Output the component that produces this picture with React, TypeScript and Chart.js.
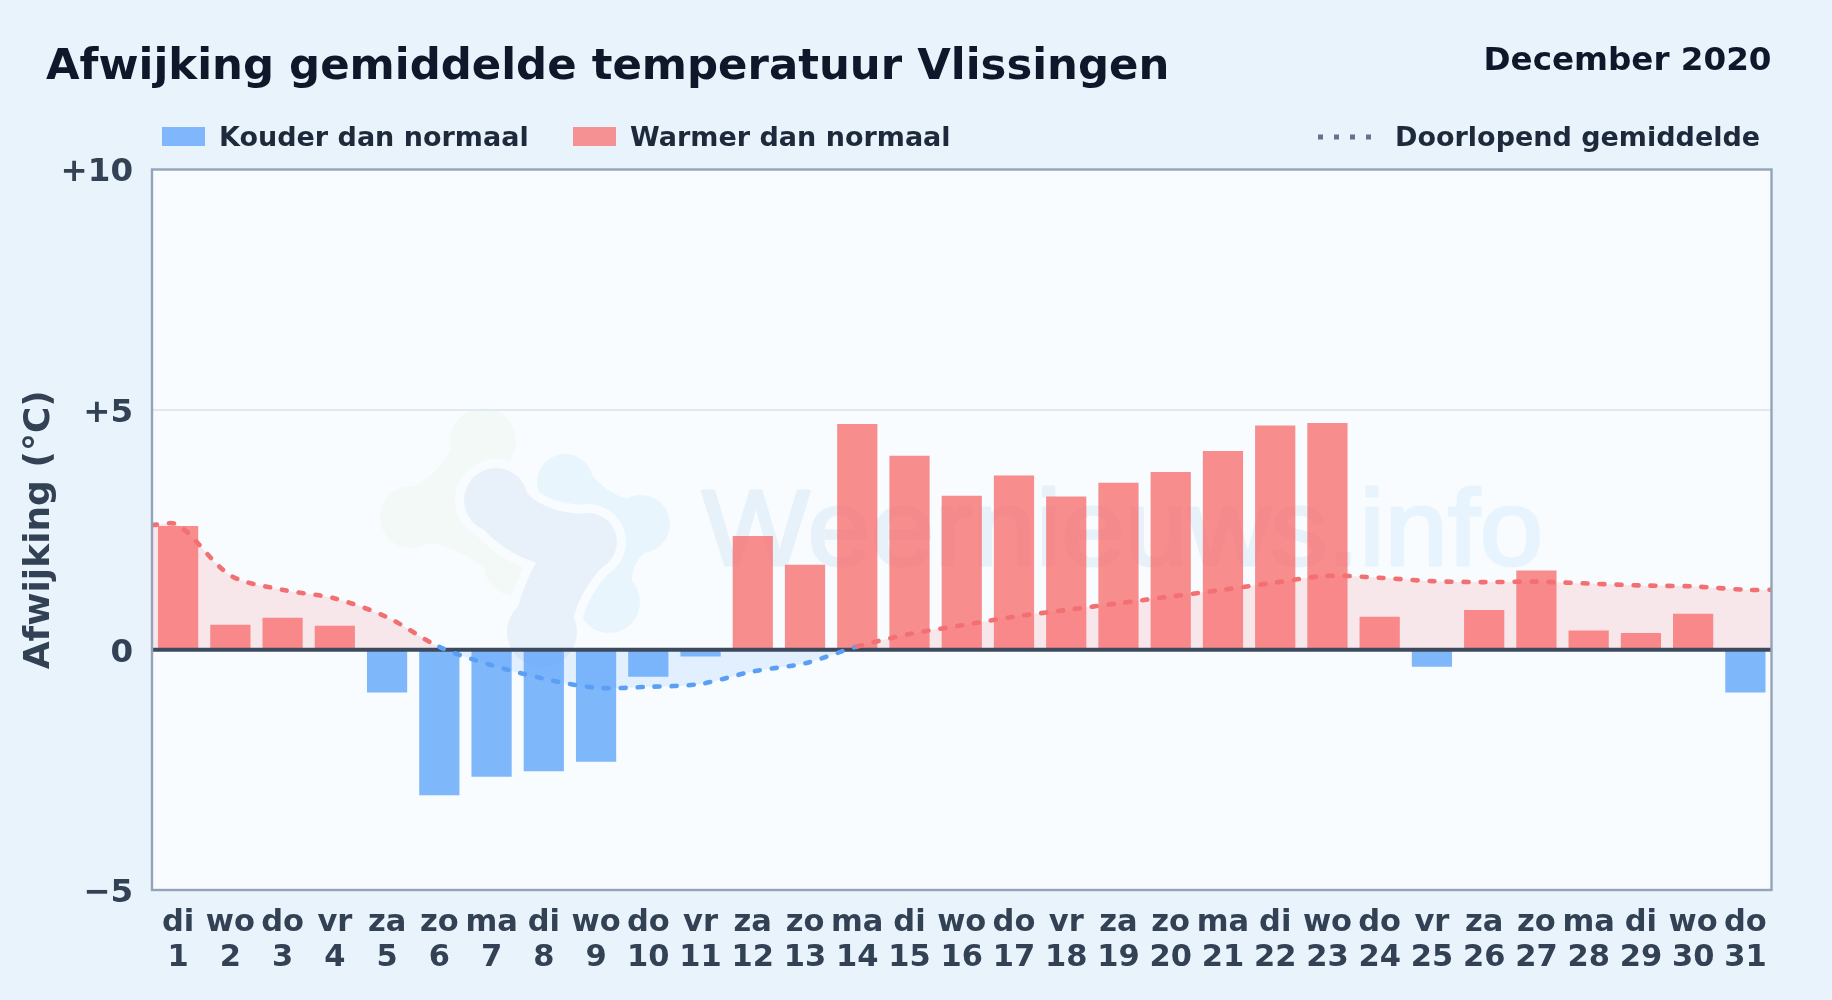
import React, { useEffect, useRef } from "react";
import { Chart, registerables } from "chart.js";

Chart.register(...registerables);

const weekdays = ["di","wo","do","vr","za","zo","ma","di","wo","do","vr","za","zo","ma","di","wo","do","vr","za","zo","ma","di","wo","do","vr","za","zo","ma","di","wo","do"];
const days = ["1","2","3","4","5","6","7","8","9","10","11","12","13","14","15","16","17","18","19","20","21","22","23","24","25","26","27","28","29","30","31"];
const deviations = [2.58,0.52,0.67,0.5,-0.89,-3.03,-2.64,-2.53,-2.33,-0.56,-0.14,2.37,1.77,4.7,4.04,3.21,3.63,3.19,3.48,3.7,4.14,4.67,4.72,0.69,-0.35,0.83,1.65,0.4,0.35,0.75,-0.89];
const runningX = [0.5,1,2,3,4,5,6,7,8,9,10,11,12,13,14,15,16,17,18,19,20,21,22,23,24,25,26,27,28,29,30,31,31.5];
const runningMean = [2.6,2.6,1.55,1.25,1.07,0.68,0.06,-0.32,-0.6,-0.79,-0.77,-0.71,-0.45,-0.28,0.07,0.33,0.51,0.69,0.83,0.97,1.11,1.25,1.4,1.54,1.5,1.43,1.41,1.42,1.38,1.34,1.32,1.25,1.25];
const yTicks: Record<number, string> = { 10: "+10", 5: "+5", 0: "0", [-5]: "\u22125" };
const FONT = '"DejaVu Sans"';
const RED = "rgba(248,113,113,0.8)";
const BLUE = "rgba(96,165,250,0.8)";
const RED_LINE = "#f26f72";
const BLUE_LINE = "#5b9ff5";

const backdrop = {
  id: "backdrop",
  beforeDraw(chart: any) {
    const { ctx, chartArea: a } = chart;
    ctx.save();
    ctx.fillStyle = "#f8fcff";
    ctx.fillRect(a.left, a.top, a.right - a.left, a.bottom - a.top);
    ctx.beginPath();
    ctx.rect(a.left, a.top, a.right - a.left, a.bottom - a.top);
    ctx.clip();
    // logo watermark: three rounded ribbons ending in lobes
    const ribbon = (color: string, paths: number[][][], lobes: number[][], w: number, grow: number) => {
      ctx.strokeStyle = color;
      ctx.fillStyle = color;
      ctx.lineCap = "round";
      ctx.lineJoin = "round";
      ctx.lineWidth = w;
      paths.forEach((p) => {
        ctx.beginPath();
        ctx.moveTo(p[0][0], p[0][1]);
        ctx.quadraticCurveTo(p[1][0], p[1][1], p[2][0], p[2][1]);
        ctx.stroke();
      });
      lobes.forEach((l) => {
        ctx.beginPath();
        ctx.arc(l[0], l[1], l[2] + grow, 0, Math.PI * 2);
        ctx.fill();
      });
    };
    const green = [[[484, 440], [465, 498], [411, 517]], [[415, 515], [470, 515], [518, 562]]];
    const greenLobes = [[483, 441, 33], [411, 517, 31], [518, 562, 35]];
    const sky = [[[565, 482], [600, 528], [641, 524]], [[641, 524], [598, 550], [609, 602]]];
    const skyLobes = [[565, 482, 28], [641, 524, 29], [609, 602, 31]];
    const grey = [[[496, 500], [525, 542], [588, 542]], [[588, 542], [552, 575], [542, 628]]];
    const greyLobes = [[496, 500, 32], [588, 542, 29], [542, 632, 35]];
    ribbon("#f3f9f6", green, greenLobes, 54, 0);
    ribbon("#e8f5fd", sky, skyLobes, 50, 0);
    ribbon("#f8fcff", grey, greyLobes, 74, 9);
    ribbon("#e8f1f9", grey, greyLobes, 56, 0);
    // word watermark
    ctx.translate(702, 565);
    ctx.scale(1.066, 1);
    ctx.font = '107px "Liberation Sans"';
    ctx.textBaseline = "alphabetic";
    ctx.textAlign = "left";
    ctx.fillStyle = "#e7f1f9";
    ctx.strokeStyle = "#e7f1f9";
    ctx.lineWidth = 3;
    ctx.lineCap = "butt";
    ctx.fillText("Weernieuws.", 0, 0);
    ctx.strokeText("Weernieuws.", 0, 0);
    const w = ctx.measureText("Weernieuws.").width;
    ctx.fillStyle = "#e8f4fd";
    ctx.strokeStyle = "#e8f4fd";
    ctx.fillText("info", w, 0);
    ctx.strokeText("info", w, 0);
    ctx.restore();
  },
  afterDraw(chart: any) {
    const { ctx, chartArea: a } = chart;
    ctx.save();
    ctx.strokeStyle = "#94a3b8";
    ctx.lineWidth = 2.4;
    ctx.strokeRect(a.left, a.top, a.right - a.left, a.bottom - a.top);
    ctx.restore();
  },
};

function Text({ x, right, baseline, size, color, children }: any) {
  const style: React.CSSProperties = {
    position: "absolute",
    top: baseline - 0.846 * size,
    fontFamily: FONT,
    fontWeight: 700,
    fontSize: size,
    lineHeight: 1,
    color,
    whiteSpace: "nowrap",
  };
  if (right !== undefined) style.right = 1832 - right;
  else style.left = x;
  return <div style={style}>{children}</div>;
}

function Swatch({ x, color }: { x: number; color: string }) {
  return <div style={{ position: "absolute", left: x, top: 127, width: 43, height: 19, background: color }} />;
}

export default function App() {
  const ref = useRef<HTMLCanvasElement>(null);
  useEffect(() => {
    const chart = new Chart(ref.current as HTMLCanvasElement, {
      type: "bar",
      data: {
        labels: weekdays.map((d, i) => [d, days[i]]),
        datasets: [
          {
            type: "line",
            label: "Doorlopend gemiddelde",
            data: runningX.map((x, i) => ({ x, y: runningMean[i] })),
            xAxisID: "x2",
            order: 0,
            borderWidth: 4.6,
            borderColor: RED_LINE,
            borderDash: [5, 12],
            borderCapStyle: "round",
            pointRadius: 0,
            tension: 0.3,
            fill: { target: "origin", above: "rgba(248,113,113,0.15)", below: "rgba(96,165,250,0.15)" },
            segment: {
              borderColor: (c: any) => (c.p0.parsed.y + c.p1.parsed.y < 0 ? BLUE_LINE : RED_LINE),
            },
          },
          {
            type: "line",
            label: "Nullijn",
            data: [{ x: 0.5, y: 0 }, { x: 31.5, y: 0 }],
            xAxisID: "x2",
            order: 1,
            borderWidth: 4,
            borderColor: "#3d4a5e",
            pointRadius: 0,
            fill: false,
          },
          {
            type: "bar",
            label: "Afwijking",
            data: deviations,
            order: 2,
            xAxisID: "x",
            grouped: false,
            barPercentage: 0.77,
            categoryPercentage: 1,
            backgroundColor: (c: any) => (c.raw < 0 ? BLUE : RED),
          },
        ],
      } as any,
      options: {
        responsive: false,
        animation: false,
        devicePixelRatio: 1,
        layout: { padding: { top: 169.5, right: 60.5, left: 0, bottom: 0 } },
        plugins: {
          legend: { display: false },
          title: { display: false },
          tooltip: { enabled: false },
          filler: { drawTime: "beforeDatasetsDraw" },
        },
        scales: {
          x: {
            type: "category",
            offset: true,
            grid: { display: false, drawTicks: false },
            border: { display: false },
            afterFit: (s: any) => { s.height = 110; },
            ticks: {
              color: "#334155",
              maxRotation: 0,
              minRotation: 0,
              autoSkip: false,
              padding: 16,
              font: { family: FONT, weight: "bold", size: 30.5, lineHeight: "34.5px" },
            },
          },
          x2: { type: "linear", min: 0.5, max: 31.5, display: false, offset: false },
          y: {
            min: -5,
            max: 10,
            border: { display: false },
            grid: {
              drawTicks: false,
              lineWidth: 2,
              color: (c: any) => (c.tick.value === 5 ? "#e2e8f0" : "transparent"),
            },
            afterFit: (s: any) => { s.width = 152; },
            ticks: {
              stepSize: 5,
              padding: 19,
              color: "#334155",
              font: { family: FONT, weight: "bold", size: 32.5, lineHeight: "7px" },
              callback: (v: any) => ["", yTicks[v as number] ?? ""],
            },
            title: {
              display: true,
              text: "Afwijking (\u00b0C)",
              color: "#334155",
              font: { family: FONT, weight: "bold", size: 36 },
              padding: { top: 18, bottom: 0 },
            },
          },
        },
      } as any,
      plugins: [backdrop],
    });
    return () => chart.destroy();
  }, []);

  return (
    <div style={{ position: "fixed", inset: 0, background: "#e8f3fc", overflow: "hidden" }}>
      <canvas ref={ref} width={1832} height={1000} style={{ position: "absolute", left: 0, top: 0, display: "block" }} />
      <Text x={46} baseline={80} size={43.4} color="#0f172a">Afwijking gemiddelde temperatuur Vlissingen</Text>
      <Text right={1771.5} baseline={71} size={32.6} color="#0f172a">December 2020</Text>
      <Swatch x={162} color="#80b6fb" />
      <Text x={219} baseline={146} size={27} color="#1e293b">Kouder dan normaal</Text>
      <Swatch x={573} color="#f59093" />
      <Text x={630} baseline={146} size={27} color="#1e293b">Warmer dan normaal</Text>
      <svg style={{ position: "absolute", left: 1317, top: 130, width: 60, height: 14 }}>
        <line x1={1} y1={7} x2={60} y2={7} stroke="#64748b" strokeWidth={5} strokeDasharray="5 11" />
      </svg>
      <Text x={1395} baseline={146} size={27} color="#1e293b">Doorlopend gemiddelde</Text>
    </div>
  );
}
